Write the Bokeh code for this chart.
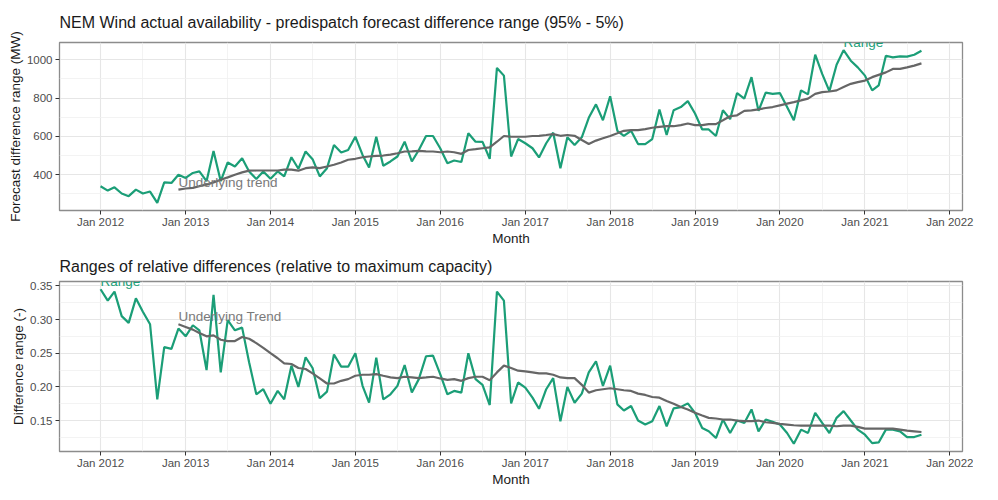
import datetime as dt
import pandas as pd
from bokeh.plotting import figure
from bokeh.models import FixedTicker, DatetimeTickFormatter, Range1d, ColumnDataSource
from bokeh.layouts import column
from bokeh.embed import file_html
from bokeh.resources import INLINE
from bokeh.core.properties import value

FONT = "Liberation Sans"
GREEN = "#1b9e77"
GREY = "#666666"

# ---------------- data ----------------
first_month = "2012-01-01"
n_months = 117           # Jan 2012 .. Sep 2021
trend_start_index = 11   # trend starts Dec 2012

range_mw = [
    340, 317, 334, 302, 288, 322, 302, 312, 253, 360, 357, 400,
    383, 409, 417, 366, 524, 366, 464, 443, 486, 417, 378, 417,
    379, 417, 391, 491, 431, 521, 481, 391, 434, 555, 516, 529,
    598, 503, 438, 598, 447, 469, 495, 572, 469, 529, 602, 602,
    538, 460, 474, 466, 616, 572, 571, 483, 957, 917, 495, 586,
    564, 538, 490, 564, 619, 434, 595, 555, 595, 697, 767, 684,
    809, 629, 603, 629, 560, 560, 586, 740, 607, 736, 753, 784,
    719, 636, 636, 602, 736, 690, 826, 797, 909, 733, 828, 822,
    826, 753, 684, 840, 819, 1026, 926, 836, 974, 1050, 995, 960,
    917, 840, 866, 1021, 1012, 1017, 1016, 1026, 1047,
]

trend_mw = [
    322,
    328, 331, 340, 348, 360, 374, 386, 400, 412, 421, 422, 422,
    422, 422, 426, 426, 421, 434, 438, 434, 443, 452, 464, 478,
    483, 491, 495, 498, 500, 505, 512, 521, 522, 524, 522, 521,
    517, 521, 517, 509, 529, 533, 538, 543, 572, 602, 598, 598,
    598, 602, 603, 607, 612, 603, 607, 603, 581, 560, 578, 590,
    602, 616, 629, 633, 633, 638, 645, 650, 653, 653, 659, 667,
    659, 659, 664, 664, 684, 705, 710, 733, 736, 741, 748, 753,
    762, 771, 779, 788, 797, 822, 831, 834, 840, 857, 874, 883,
    891, 909, 921, 934, 952, 952, 960, 969, 981,
]

range_rel = [
    0.345, 0.328, 0.3415, 0.305, 0.295, 0.3315, 0.3115, 0.293, 0.1815, 0.259, 0.2565, 0.2865,
    0.275, 0.2915, 0.284, 0.225, 0.3365, 0.2215, 0.299, 0.284, 0.288, 0.2365, 0.189, 0.1965,
    0.175, 0.194, 0.1815, 0.2315, 0.200, 0.244, 0.228, 0.183, 0.193, 0.248, 0.230, 0.230,
    0.250, 0.2015, 0.1765, 0.2435, 0.1815, 0.189, 0.2015, 0.2325, 0.1915, 0.2115, 0.2455, 0.2465,
    0.219, 0.189, 0.194, 0.1915, 0.250, 0.2115, 0.203, 0.173, 0.3415, 0.328, 0.1755, 0.2065,
    0.199, 0.184, 0.1675, 0.1965, 0.213, 0.149, 0.200, 0.1765, 0.190, 0.2215, 0.238, 0.2015,
    0.2315, 0.174, 0.165, 0.1715, 0.150, 0.144, 0.149, 0.1715, 0.1415, 0.168, 0.170, 0.1755,
    0.1615, 0.139, 0.134, 0.124, 0.1515, 0.1315, 0.150, 0.1465, 0.1665, 0.134, 0.1515, 0.148,
    0.144, 0.1315, 0.1155, 0.1365, 0.1315, 0.1615, 0.1465, 0.1315, 0.154, 0.164, 0.150, 0.1365,
    0.129, 0.1165, 0.1175, 0.1365, 0.1365, 0.134, 0.1255, 0.1255, 0.129,
]

trend_rel = [
    0.293,
    0.289, 0.285, 0.280, 0.275, 0.2765, 0.270, 0.268, 0.268, 0.274, 0.2715, 0.265, 0.258,
    0.250, 0.2425, 0.235, 0.234, 0.228, 0.2265, 0.220, 0.2125, 0.205, 0.205, 0.209, 0.2115,
    0.2165, 0.218, 0.218, 0.219, 0.2165, 0.214, 0.213, 0.215, 0.214, 0.213, 0.214, 0.215,
    0.2125, 0.2105, 0.2115, 0.209, 0.213, 0.215, 0.215, 0.210, 0.2215, 0.2315, 0.228, 0.224,
    0.223, 0.2215, 0.220, 0.220, 0.218, 0.214, 0.213, 0.213, 0.203, 0.1915, 0.195, 0.1965,
    0.198, 0.1965, 0.195, 0.194, 0.190, 0.188, 0.185, 0.184, 0.179, 0.175, 0.170, 0.1665,
    0.1615, 0.1575, 0.154, 0.153, 0.1515, 0.1515, 0.150, 0.149, 0.149, 0.150, 0.1475, 0.1465,
    0.145, 0.144, 0.143, 0.1425, 0.1425, 0.1425, 0.1425, 0.1425, 0.1415, 0.1425, 0.1425, 0.1405,
    0.138, 0.138, 0.138, 0.138, 0.138, 0.1365, 0.135, 0.134, 0.133,
]

tick_years = list(range(2012, 2023))
top_yticks = [400, 600, 800, 1000]
top_yminor = [300, 500, 700, 900]
bot_yticks = [0.15, 0.20, 0.25, 0.30, 0.35]
bot_yminor = [0.125, 0.175, 0.225, 0.275, 0.325]

top_title = "NEM Wind actual availability - predispatch forecast difference range (95% - 5%)"
bot_title = "Ranges of relative differences (relative to maximum capacity)"
top_ylabel = "Forecast difference range (MW)"
bot_ylabel = "Difference range (-)"
xlabel = "Month"

months = list(pd.date_range(first_month, periods=n_months, freq="MS").to_pydatetime())
trend_months = months[trend_start_index:]


def ms(d):
    return (d - dt.datetime(1970, 1, 1)).total_seconds() * 1000.0


def make_plot(title, ylabel, rng, trend, yticks, yminor, range_label_idx,
              trend_label, frame_h, title_standoff, ylab_standoff):
    x0, x1 = months[0], months[-1]
    span = x1 - x0
    xr = Range1d(x0 - span * 0.05, x1 + span * 0.05)
    lo = min(min(rng), min(trend))
    hi = max(max(rng), max(trend))
    yr = Range1d(lo - (hi - lo) * 0.05, hi + (hi - lo) * 0.05)

    p = figure(frame_width=903, frame_height=frame_h, x_axis_type="datetime",
               x_range=xr, y_range=yr, output_backend="svg",
               toolbar_location=None, title=title,
               min_border_left=0, min_border_right=15,
               min_border_top=0, min_border_bottom=0)
    p.margin = (0, 0, 0, 4)
    p.background_fill_color = "white"
    p.border_fill_color = "white"
    p.outline_line_color = "#8c8c8c"
    p.outline_line_width = 1.3

    p.title.text_font = FONT
    p.title.text_font_size = "16px"
    p.title.text_font_style = "normal"
    p.title.text_color = "#1a1a1a"
    p.title.align = "left"
    p.title.standoff = title_standoff

    major = [ms(dt.datetime(y, 1, 1)) for y in tick_years]
    minor = [ms(dt.datetime(y - 1, 7, 1)) for y in tick_years]
    p.xaxis.ticker = FixedTicker(ticks=major, minor_ticks=minor)
    fmt = "%b %Y"
    p.xaxis.formatter = DatetimeTickFormatter(
        years=fmt, months=fmt, days=fmt, hours=fmt, minutes=fmt,
        hourmin=fmt, seconds=fmt, minsec=fmt, milliseconds=fmt,
        microseconds=fmt)
    p.yaxis.ticker = FixedTicker(ticks=yticks, minor_ticks=yminor)
    if isinstance(yticks[0], float):
        p.yaxis.major_label_overrides = {t: f"{t:.2f}" for t in yticks}

    for ax in (p.xaxis[0], p.yaxis[0]):
        ax.axis_line_color = None
        ax.major_tick_line_color = "#333333"
        ax.major_tick_out = 4
        ax.major_tick_in = 0
        ax.minor_tick_line_color = None
        ax.major_label_text_font = FONT
        ax.major_label_text_font_size = "11.5px"
        ax.major_label_text_color = "#4d4d4d"
        ax.axis_label_text_font = FONT
        ax.axis_label_text_font_size = "13.5px"
        ax.axis_label_text_font_style = "normal"
        ax.axis_label_text_color = "#1a1a1a"
    p.xaxis.major_label_standoff = 1
    p.xaxis.axis_label_standoff = 0
    p.yaxis.major_label_standoff = 3
    p.yaxis.axis_label_standoff = ylab_standoff
    p.xaxis.axis_label = xlabel
    p.yaxis.axis_label = ylabel

    for g in (p.xgrid[0], p.ygrid[0]):
        g.grid_line_color = "#e6e6e6"
        g.grid_line_width = 1.1
        g.minor_grid_line_color = "#f0f0f0"
        g.minor_grid_line_width = 0.8

    src_r = ColumnDataSource(dict(x=months, y=rng))
    src_t = ColumnDataSource(dict(x=trend_months, y=trend))
    p.line("x", "y", source=src_r, line_color=GREEN, line_width=2.2)
    p.line("x", "y", source=src_t, line_color=GREY, line_width=2.2)

    p.text(x=[months[range_label_idx]], y=[rng[range_label_idx]], text=["Range"],
           text_font=value(FONT), text_font_size="13.5px", text_color=GREEN,
           text_align="left", text_baseline="bottom")
    p.text(x=[trend_months[0]], y=[trend[0]], text=[trend_label],
           text_font=value(FONT), text_font_size="13.5px", text_color="#7a7a7a",
           text_align="left", text_baseline="bottom")
    return p


top_idx = range_mw.index(max(range_mw))
bot_idx = range_rel.index(max(range_rel))

p1 = make_plot(top_title, top_ylabel, range_mw, trend_mw, top_yticks, top_yminor,
               top_idx, "Underlying trend", 168, 23, 1)
p2 = make_plot(bot_title, bot_ylabel, range_rel, trend_rel, bot_yticks, bot_yminor,
               bot_idx, "Underlying Trend", 170, 14, 1)

layout = column(p1, p2, spacing=0)
open("out.html", "w").write(file_html(layout, INLINE))
